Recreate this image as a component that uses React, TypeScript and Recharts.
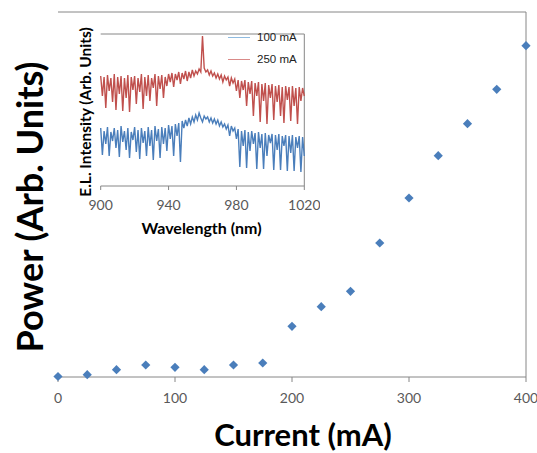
import React from 'react';
import { ScatterChart, Scatter, XAxis, YAxis, ReferenceLine, LineChart, Line } from 'recharts';

// main L-I curve
const currents = [0, 25, 50, 75, 100, 125, 150, 175, 200, 225, 250, 275, 300, 325, 350, 375, 400];
const power = [0.5, 2.3, 7.3, 12, 9.7, 7.3, 12, 14, 50.7, 70.3, 85.7, 134, 179, 221.3, 253.3, 287.7, 331.3];
const currentTicks = [0, 100, 200, 300, 400];

// inset EL spectra, one value per nm starting at 900 nm
const wavelengthStart = 900;
const spectrum100 = [
  58, 31, 55, 42, 59, 30, 54, 45, 58, 38, 56, 29, 60, 44, 55, 36, 58, 28, 54, 46,
  59, 34, 56, 27, 58, 43, 55, 30, 59, 40, 56, 26, 60, 45, 57, 28, 59, 42, 58, 35,
  61, 47, 60, 30, 62, 50, 63, 24, 65, 58, 66, 60, 68, 62, 69, 64, 71, 66, 73, 68,
  64, 70, 67, 69, 64, 68, 63, 67, 62, 66, 60, 64, 59, 62, 57, 61, 50, 60, 55, 58,
  47, 57, 19, 55, 40, 56, 18, 54, 35, 55, 42, 53, 17, 54, 38, 52, 17, 53, 30, 51,
  43, 52, 16, 51, 36, 52, 16, 50, 40, 51, 15, 50, 33, 51, 15, 49, 38, 50, 14, 49,
  30,
];
const spectrum250 = [
  110, 90, 109, 78, 111, 95, 108, 84, 112, 76, 109, 92, 110, 75, 108, 88, 111, 74, 109, 96,
  110, 82, 108, 94, 112, 77, 109, 90, 111, 85, 108, 98, 112, 80, 110, 97, 111, 88, 109, 100,
  112, 104, 113, 99, 112, 106, 114, 102, 113, 107, 115, 105, 114, 108, 116, 110, 115, 112, 117, 114,
  150, 118, 114, 116, 111, 115, 110, 113, 108, 112, 107, 111, 104, 110, 106, 109, 100, 108, 103, 107,
  95, 106, 88, 105, 96, 106, 80, 104, 92, 105, 70, 103, 90, 104, 64, 102, 85, 103, 62, 101,
  88, 102, 66, 100, 84, 101, 70, 99, 63, 100, 86, 99, 65, 100, 80, 98, 62, 99, 85, 98,
  90,
];
const wavelengthTicks = [900, 940, 980, 1020];

const seriesNames = ['100 mA', '250 mA'];
const seriesColors = ['#4a7ebb', '#c0504d'];
const legendColors = ['#8fbbe0', '#d98a88'];

const ivData = currents.map((c, i) => ({ current: c, power: power[i] }));
const spectrumData = spectrum100.map((v, i) => ({
  wavelength: wavelengthStart + i,
  s100: v,
  s250: spectrum250[i],
}));

const AXIS = '#868686';
const TEXT = '#595959';

const Diamond = (props: any) => {
  const { cx, cy } = props;
  const r = 4.6;
  return (
    <polygon
      points={`${cx},${cy - r} ${cx + r},${cy} ${cx},${cy + r} ${cx - r},${cy}`}
      fill="#4a7ebb"
    />
  );
};

const abs = (cx: number, cy: number, extra: React.CSSProperties): React.CSSProperties => ({
  position: 'absolute',
  left: cx,
  top: cy,
  whiteSpace: 'nowrap',
  fontFamily: 'Lato, sans-serif',
  fontWeight: 700,
  color: '#000',
  lineHeight: 1,
  ...extra,
});

export default function App() {
  return (
    <div style={{ position: 'absolute', left: 0, top: 0, width: 537, height: 453, background: '#fff', fontFamily: 'Lato, sans-serif' }}>
      <ScatterChart width={537} height={453} margin={{ top: 12, right: 11, left: 58, bottom: 0 }}>
        <XAxis
          type="number"
          dataKey="current"
          domain={[0, 400]}
          ticks={currentTicks}
          height={76}
          stroke={AXIS}
          tickSize={5}
          tickMargin={11}
          tick={{ fill: TEXT, fontSize: 14, fontFamily: 'Lato' }}
        />
        <YAxis type="number" dataKey="power" domain={[0, 365]} width={0} tick={false} tickLine={false} stroke={AXIS} />
        <ReferenceLine y={365} stroke={AXIS} />
        <ReferenceLine x={400} stroke={AXIS} />
        <Scatter data={ivData} shape={<Diamond />} isAnimationActive={false} />
      </ScatterChart>

      <div style={{ position: 'absolute', left: 60, top: 20 }}>
        <LineChart width={260} height={215} data={spectrumData} margin={{ top: 14, right: 15.7, left: 40.7, bottom: 0 }}>
          <XAxis
            type="number"
            dataKey="wavelength"
            domain={[900, 1020]}
            ticks={wavelengthTicks}
            height={49}
            stroke={AXIS}
            tickSize={4}
            tickMargin={10}
            tick={{ fill: TEXT, fontSize: 14, fontFamily: 'Lato' }}
          />
          <YAxis type="number" domain={[0, 152]} width={0} tick={false} tickLine={false} stroke={AXIS} />
          <ReferenceLine y={152} stroke={AXIS} />
          <ReferenceLine x={1020} stroke={AXIS} />
          <Line dataKey="s100" name={seriesNames[0]} stroke={seriesColors[0]} strokeWidth={1.4} dot={false} isAnimationActive={false} />
          <Line dataKey="s250" name={seriesNames[1]} stroke={seriesColors[1]} strokeWidth={1.4} dot={false} isAnimationActive={false} />
        </LineChart>
      </div>

      {/* inset legend */}
      <div style={{ position: 'absolute', left: 228, top: 26, fontFamily: 'Arial, "Liberation Sans", sans-serif', fontSize: 11.5, color: '#222' }}>
        {seriesNames.map((name, i) => (
          <div key={name} style={{ display: 'flex', alignItems: 'center', height: 22 }}>
            <span style={{ display: 'inline-block', width: 22, height: 0, borderTop: `1.5px solid ${legendColors[i]}`, marginRight: 7 }} />
            <span>{name}</span>
          </div>
        ))}
      </div>

      <div style={abs(29, 207, { fontSize: 36, transform: 'translate(-50%, -50%) rotate(-90deg)' })}>Power (Arb. Units)</div>
      <div style={abs(303, 434, { fontSize: 31, transform: 'translate(-50%, -50%)' })}>Current (mA)</div>
      <div style={abs(86, 112, { fontSize: 15.5, transform: 'translate(-50%, -50%) rotate(-90deg)' })}>E.L. Intensity (Arb. Units)</div>
      <div style={abs(201.5, 228, { fontSize: 16, transform: 'translate(-50%, -50%)' })}>Wavelength (nm)</div>
    </div>
  );
}
